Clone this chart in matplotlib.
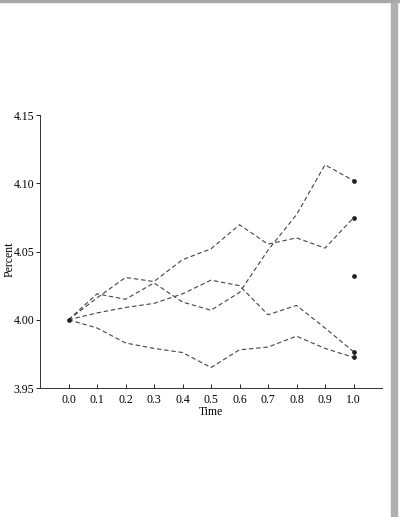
import matplotlib
matplotlib.use('Agg')
import matplotlib.pyplot as plt
from matplotlib.patches import Rectangle

# time grid and four simulated rate paths
t = [0.0, 0.1, 0.2, 0.3, 0.4, 0.5, 0.6, 0.7, 0.8, 0.9, 1.0]
path_a = [4.000, 4.019, 4.015, 4.027, 4.013, 4.007, 4.020, 4.051, 4.077, 4.1135, 4.102]
path_b = [4.000, 4.016, 4.031, 4.028, 4.044, 4.052, 4.0696, 4.0554, 4.060, 4.0525, 4.0747]
path_c = [4.000, 4.005, 4.009, 4.012, 4.019, 4.029, 4.025, 4.0037, 4.0105, 3.994, 3.9766]
path_d = [4.000, 3.994, 3.983, 3.979, 3.976, 3.965, 3.978, 3.980, 3.988, 3.979, 3.9725]
paths = [path_a, path_b, path_c, path_d]

# end-point marks at t=1 (incl. the lone one) and the start value
end_t = [1.0, 1.0, 1.0, 1.0, 1.0]
end_vals = [4.102, 4.0747, 4.032, 3.9766, 3.9725]
start_t = [0.0]
start_vals = [4.000]

xticks = [0.0, 0.1, 0.2, 0.3, 0.4, 0.5, 0.6, 0.7, 0.8, 0.9, 1.0]
yticks = [3.95, 4.00, 4.05, 4.10, 4.15]

plt.rcParams['font.family'] = ['Liberation Serif', 'DejaVu Serif']

fig = plt.figure(figsize=(4.0, 5.17), dpi=100)
ax = fig.add_axes([0.1, 0.2495, 0.855, 0.528])

for p in paths:
    ax.plot(t, p, linestyle=(0, (4, 2.5)), color='#444444', lw=0.8)

ax.plot(end_t, end_vals, 'o', color='#222222', ms=2.4, ls='none')
ax.plot(start_t, start_vals, 'o', color='#222222', ms=2.4, ls='none')

ax.set_xlim(-0.1, 1.1)
ax.set_ylim(3.95, 4.15)
ax.set_xticks(xticks)
ax.set_xticklabels([f'{v:.1f}' for v in xticks])
ax.set_yticks(yticks)
ax.set_yticklabels([f'{v:.2f}' for v in yticks])
ax.tick_params(axis='x', direction='in', length=3, width=0.6, labelsize=8.5, pad=4)
ax.tick_params(axis='y', direction='out', length=3, width=0.6, labelsize=8.5, pad=1)

for side in ['top', 'right']:
    ax.spines[side].set_visible(False)
for side in ['left', 'bottom']:
    ax.spines[side].set_linewidth(0.7)
    ax.spines[side].set_color('#333333')

ax.set_xlabel('Time', fontsize=8.5, labelpad=0)
ax.set_ylabel('Percent', fontsize=8.5)
ax.yaxis.set_label_coords(-0.071, 0.47)

# scan border
fig.patches.append(Rectangle((391 / 400, 0), 6 / 400, 1, transform=fig.transFigure,
                             color='#b0b0b0', zorder=0))
fig.patches.append(Rectangle((0, 1 - 2 / 517), 1, 2 / 517, transform=fig.transFigure,
                             color='#a8a8a8', zorder=0))

fig.savefig('out.png', dpi=100)
